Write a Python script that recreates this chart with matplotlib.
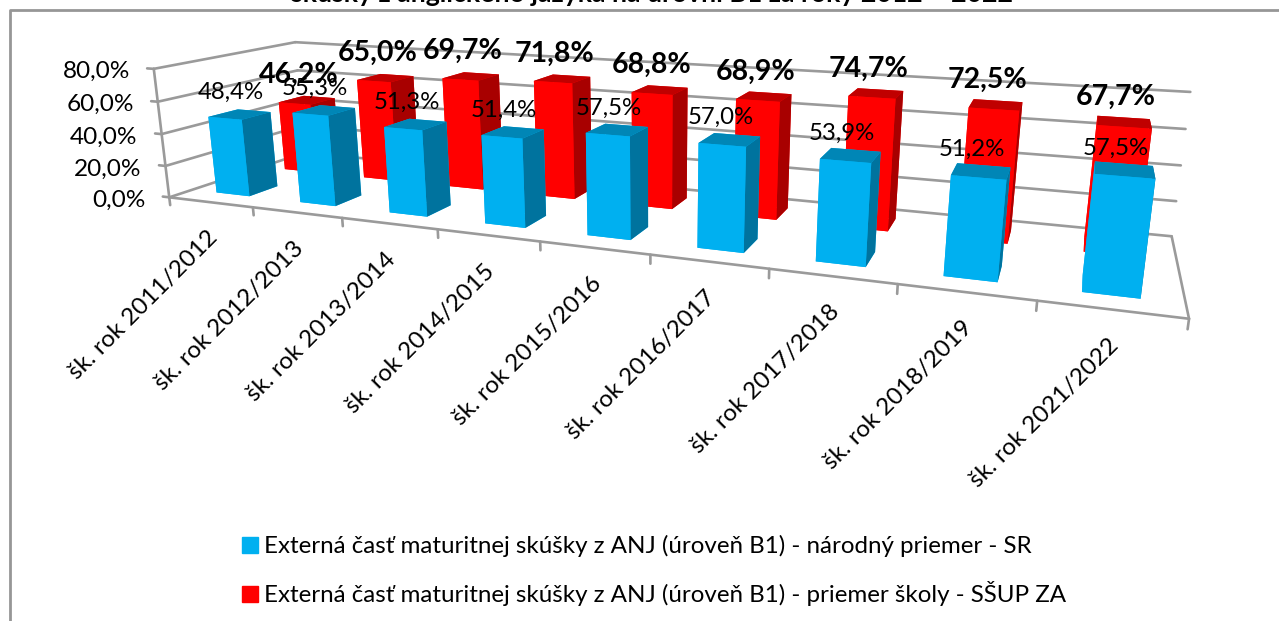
import numpy as np
import matplotlib
matplotlib.use("Agg")
import matplotlib.pyplot as plt
from matplotlib.patches import Patch
from matplotlib.lines import Line2D
from matplotlib.transforms import offset_copy
from mpl_toolkits.mplot3d import proj3d
from mpl_toolkits.mplot3d.art3d import Line3DCollection

plt.rcParams['font.family'] = ['Lato', 'DejaVu Sans']

categories = ["šk. rok 2011/2012", "šk. rok 2012/2013", "šk. rok 2013/2014",
              "šk. rok 2014/2015", "šk. rok 2015/2016", "šk. rok 2016/2017",
              "šk. rok 2017/2018", "šk. rok 2018/2019", "šk. rok 2021/2022"]
national = [48.4, 55.3, 51.3, 51.4, 57.5, 57.0, 53.9, 51.2, 57.5]
school = [46.2, 65.0, 69.7, 71.8, 68.8, 68.9, 74.7, 72.5, 67.7]
value_ticks = [0, 20, 40, 60, 80]
series_names = ["Externá časť maturitnej skúšky z ANJ (úroveň B1) - národný priemer - SR",
                "Externá časť maturitnej skúšky z ANJ (úroveň B1) - priemer školy - SŠUP ZA"]
title = "skúšky z anglického jazyka na úrovni B1 za roky 2012 – 2022"

W, H = 1279, 621
GRID = '#9a9a9a'

# Camera calibration: plot-box corners (category, depth, value) -> image position
box = [(0, 0, 0), (0, 0, 80), (0, 1, 80), (0, 1, 0), (9, 1, 80), (9, 1, 0), (9, 0, 0)]
img = [(171, 197), (152, 69), (297, 42), (303, 153), (1190, 92), (1172, 236), (1189, 319)]
A, b = [], []
for (x, y, z), (u, v) in zip(box, img):
    A.append([x, y, z, 1, 0, 0, 0, 0, -u * x, -u * y, -u * z]); b.append(u)
    A.append([0, 0, 0, 0, x, y, z, 1, -v * x, -v * y, -v * z]); b.append(v)
p = np.linalg.lstsq(np.array(A, float), np.array(b, float), rcond=None)[0]
M = np.array([p[:4], p[4:8], [0, 1, -0.002, 0], [p[8], p[9], p[10], 1.0]])

fig = plt.figure(figsize=(W / 100, H / 100), dpi=100)
ax = fig.add_axes([0, 0, 1, 1], projection='3d')
ax.apply_aspect = lambda position=None: None
ax.get_proj = lambda: M
ax.computed_zorder = False
ax.set_axis_off()
ax.viewLim.intervalx = (0, W)
ax.viewLim.intervaly = (H, 0)


def pos(x, y, z):
    u, v, _ = proj3d.proj_transform(x, y, z, M)
    return float(u), float(v)


def text_at(x, y, z, s, dx=0, dy=0, **kw):
    u, v = pos(x, y, z)
    tr = offset_copy(ax.transData, fig=fig, x=dx, y=-dy, units='dots')
    return ax.text2D(u, v, s, transform=tr, **kw)


n = len(categories)
segments = []
for t in value_ticks:
    segments += [[(0, 0, t), (0, 1, t)], [(0, 1, t), (n, 1, t)], [(-0.08, 0, t), (0, 0, t)]]
segments += [[(0, 0, 0), (0, 0, 80)],
             [(0, 0, 0), (n, 0, 0)], [(n, 0, 0), (n, 1, 0)]]
segments += [[(i, 0, 0), (i, 0, -5)] for i in range(n + 1)]
ax.add_collection3d(Line3DCollection(segments, colors=GRID, linewidths=1.9, zorder=1,
                                     capstyle='round'))

bar_w, gap = 0.4, 0.3
xs = np.arange(n) + gap
depth = 0.2


def bars(vals, y0, front, top, side, zo):
    faces = [front, top, front, front, front, side] * n
    ax.bar3d(xs, np.full(n, y0), np.zeros(n), bar_w, depth, vals,
             color=faces, shade=False, zorder=zo, linewidth=0)


bars(school, 0.65, '#FF0000', '#C00000', '#A80000', 2)
bars(national, 0.15, '#00B0F0', '#0086B6', '#00739E', 3)

for i, (a, c) in enumerate(zip(national, school)):
    text_at(i + .5, .25, a, f"{a:.1f}%".replace('.', ','), dx=-9, dy=-22,
            ha='center', va='center', fontsize=17.3, zorder=6, color='black')
    text_at(i + .5, .75, c, f"{c:.1f}%".replace('.', ','), dx=-8, dy=-25,
            ha='center', va='center', fontsize=20.5, fontweight='bold', zorder=7, color='black')

for t in value_ticks:
    text_at(0, 0, t, f"{t:.1f}%".replace('.', ','), dx=-24, dy=3,
            ha='right', va='center', fontsize=17.6, color='black', zorder=6)

for i, c in enumerate(categories):
    text_at(i + .5, 0, 0, c, dx=-4, dy=25, ha='right', va='top', rotation=45,
            rotation_mode='anchor', fontsize=17.5, color='black', zorder=6)

# Frame and title, cut off by the picture edge as in the source
fig.add_artist(Line2D([10 / W, 10 / W, 1], [0, 1 - 10 / H, 1 - 10 / H], color='#969696', lw=2))
fig.text(652 / W, 1 - 2 / H, title, ha='center', va='baseline', fontsize=19.2,
         fontweight='bold', color='black')

handles = [Patch(color='#00B0F0'), Patch(color='#FF0000')]
fig.legend(handles, series_names, loc='upper left', bbox_to_anchor=(242 / W, 1 - 535 / H),
           frameon=False, ncol=1, fontsize=17.4, handlelength=0.65, handleheight=0.65,
           handletextpad=0.25, labelspacing=1.0, borderaxespad=0, borderpad=0)

fig.savefig("out.png", dpi=100)
